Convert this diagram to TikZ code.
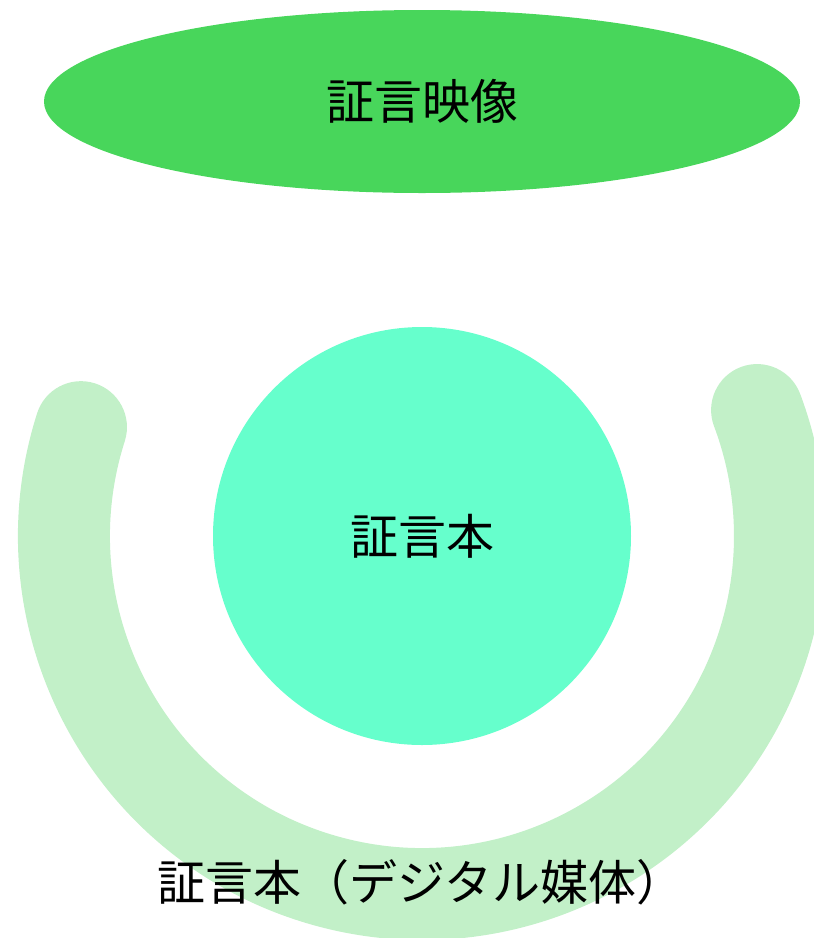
\documentclass[tikz,border=0pt]{standalone}
\usepackage{fontspec}
\newfontfamily\cjk{Noto Sans CJK JP}
\usetikzlibrary{shapes.geometric}
\definecolor{ellgreen}{HTML}{48D65B}
\definecolor{aqua}{HTML}{66FFCC}
\definecolor{paleg}{HTML}{C2F0C8}
\tikzset{
  lbl/.style={font=\cjk\fontsize{48}{48}\selectfont, text=black, inner sep=0pt},
  ringarc/.style={draw=paleg, line width=92pt, line cap=round}
}
\begin{document}
\begin{tikzpicture}[x=1pt,y=1pt]
\useasboundingbox (0,0) rectangle (814,-938);
\coordinate (c) at (422,-536);
\draw[ringarc] (c) ++(162.3:358) arc[start angle=162.3, end angle=380.6, radius=358];
\node[ellipse, fill=ellgreen, minimum width=756pt, minimum height=183pt, inner sep=0pt] (video) at (422,-101.5) {};
\node[lbl] (videolbl) at (video.center) {証言映像};
\node[circle, fill=aqua, minimum size=418pt, inner sep=0pt] (book) at (c) {};
\node[lbl] (booklbl) at (book.center) {証言本};
\node[lbl] (digital) at (421,-882) {証言本（デジタル媒体）};
\end{tikzpicture}
\end{document}
